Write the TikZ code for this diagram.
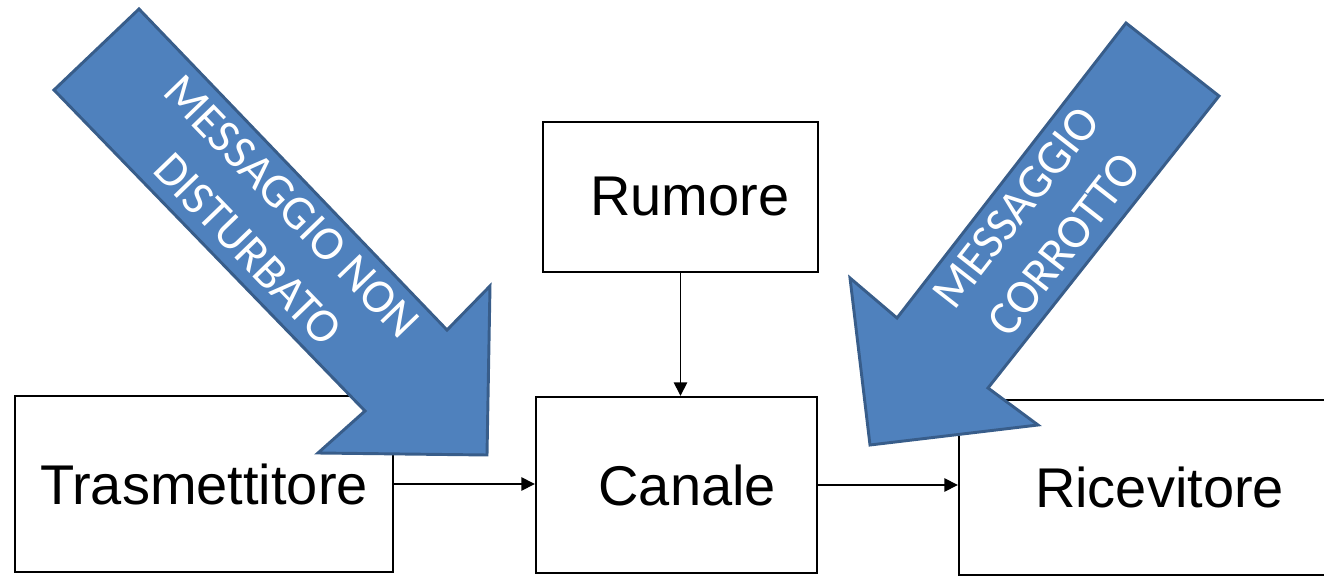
\documentclass[tikz,border=0pt]{standalone}
\usepackage{fontspec}
\setmainfont{Liberation Sans}
\newfontfamily\arrowfont{Carlito}
\usetikzlibrary{arrows.meta}

\tikzset{
  box/.style={draw, line width=1.8pt, inner sep=0pt, font=\fontsize{42}{50}\selectfont},
  conn/.style={line width=1.1pt, -{Triangle[length=10pt,width=10pt]}},
  bigarrow/.style={fill={rgb, 255:red, 79; green, 129; blue, 189}, draw={rgb, 255:red, 56; green, 93; blue, 138}, line width=2.2pt, line join=miter},
  arrowtext/.style={text=white, align=center, inner sep=0pt, font=\arrowfont\fontsize{36}{46}\selectfont}
}

\begin{document}
\begin{tikzpicture}[x=0.75pt,y=0.75pt,yscale=-1,xscale=1]
\useasboundingbox (0,0) rectangle (1324,577);
\clip (0,0) rectangle (1324,577);

% Blocks
\node [box, minimum width=283.5pt, minimum height=132pt] (trasm) at (204,484) {Trasmettitore};
\node [box, minimum width=210.75pt, minimum height=132pt] (canale) at (676.5,485) {\hspace*{16pt}Canale};
\node [box, minimum width=206.25pt, minimum height=112.5pt] (rumore) at (680.5,197) {\hspace*{14pt}Rumore};
\node [box, minimum width=300.75pt, minimum height=131.25pt] (ricev) at (1159.5,487.5) {Ricevitore};

% Connectors
\draw [conn] (trasm.east) -- (trasm.east -| canale.west);
\draw [conn] (canale.east) -- (canale.east -| ricev.west);
\draw [conn] (rumore.south) -- (rumore.south |- canale.north);

%Shape: Block arrow (left)
\draw [bigarrow] (139,9) -- (54,90) -- (365,411) -- (318,453) -- (487,455) -- (490,286) -- (447,330) -- cycle;
% Text Node
\node [arrowtext, rotate=-46] (msgok) at (270,228) {MESSAGGIO NON\\DISTURBATO};

%Shape: Block arrow (right)
\draw [bigarrow] (1126,23) -- (1219,96) -- (988,388) -- (1038,425) -- (870,445) -- (850,278) -- (897,318) -- cycle;
% Text Node
\node [arrowtext, rotate=52] (msgko) at (1040,226) {MESSAGGIO\\CORROTTO};

\end{tikzpicture}
\end{document}
